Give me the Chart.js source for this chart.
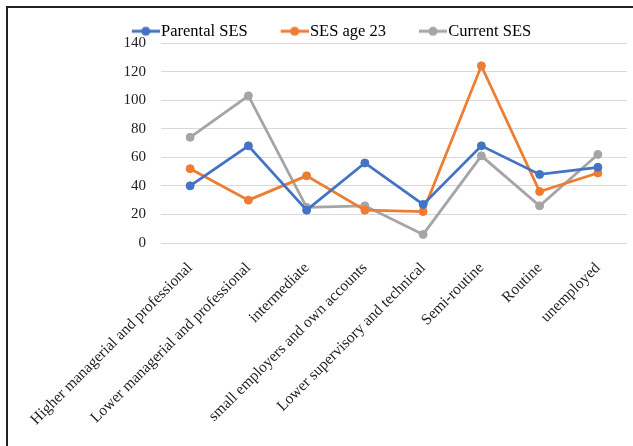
<!DOCTYPE html>
<html>
<head>
<meta charset="utf-8">
<script src="https://cdn.jsdelivr.net/npm/chart.js@4.4.0/dist/chart.umd.min.js"></script>
<style>
  html, body { margin: 0; padding: 0; background: #fff; }
  #wrap { position: relative; width: 633px; height: 446px; overflow: hidden; }
  #frame { position: absolute; left: 6px; top: 6px; width: 700px; height: 500px;
           border-left: 2px solid #222; border-top: 2px solid #222; }
  canvas { position: absolute; left: 0; top: 0; }
</style>
</head>
<body>
<div id="wrap">
  <div id="frame"></div>
  <canvas id="myChart" width="633" height="446"></canvas>
</div>
<script>
const categories = ['Higher managerial and professional', 'Lower managerial and professional',
  'intermediate', 'small employers and own accounts', 'Lower supervisory and technical',
  'Semi-routine', 'Routine', 'unemployed']
const parental = [40, 68, 23, 56, 27, 68, 48, 53]
const age23 = [52, 30, 47, 23, 22, 124, 36, 49]
const current = [74, 103, 25, 26, 6, 61, 26, 62]
const yTicks = [0, 20, 40, 60, 80, 100, 120, 140]

const serif = 'Liberation Serif'

// legend marker: line with a dot, transparent on the left so the line sits next to the text
function marker(color) {
  const c = document.createElement('canvas')
  c.width = 58
  c.height = 12
  const g = c.getContext('2d')
  g.strokeStyle = color
  g.lineWidth = 3
  g.beginPath()
  g.moveTo(30, 6)
  g.lineTo(58, 6)
  g.stroke()
  g.fillStyle = color
  g.beginPath()
  g.arc(44, 6, 4.5, 0, Math.PI * 2)
  g.fill()
  return c
}

function series(label, data, color) {
  return {
    label: label,
    data: data,
    borderColor: color,
    backgroundColor: color,
    borderWidth: 2.75,
    pointRadius: 4,
    pointBorderWidth: 1,
    pointHoverRadius: 4,
    pointStyle: 'circle',
    tension: 0,
    legendMarker: marker(color)
  }
}

const ctx = document.getElementById('myChart')
new Chart(ctx, {
  type: 'line',
  data: {
    labels: categories,
    datasets: [
      series('Parental SES', parental, '#4472C4'),
      series('SES age 23', age23, '#ED7D31'),
      series('Current SES', current, '#A5A5A5')
    ]
  },
  options: {
    responsive: false,
    animation: false,
    layout: { padding: { top: 13, right: 6, left: 13, bottom: 0 } },
    plugins: {
      tooltip: { enabled: false },
      legend: {
        position: 'top',
        maxHeight: 30,
        labels: {
          usePointStyle: true,
          pointStyleWidth: 44,
          padding: 10,
          color: '#222',
          font: { family: serif, size: 16.5 },
          generateLabels: chart => chart.data.datasets.map((d, i) => ({
            text: d.label,
            pointStyle: d.legendMarker,
            fillStyle: d.borderColor,
            strokeStyle: d.borderColor,
            lineWidth: 0,
            hidden: false,
            datasetIndex: i
          }))
        }
      }
    },
    scales: {
      x: {
        offset: true,
        grid: { display: false },
        border: { display: false },
        ticks: {
          autoSkip: false,
          minRotation: 45,
          maxRotation: 45,
          padding: 8,
          color: '#222',
          font: { family: serif, size: 15.5 }
        },
        afterFit: s => { s.height = 203 }
      },
      y: {
        min: 0,
        max: 140,
        border: { display: false },
        grid: { color: '#D9D9D9', lineWidth: 1, drawTicks: false },
        afterBuildTicks: s => { s.ticks = yTicks.map(v => ({ value: v })) },
        ticks: {
          padding: 15,
          color: '#222',
          font: { family: serif, size: 15 }
        },
        afterFit: s => { s.width = 148 }
      }
    }
  }
})
</script>
</body>
</html>
